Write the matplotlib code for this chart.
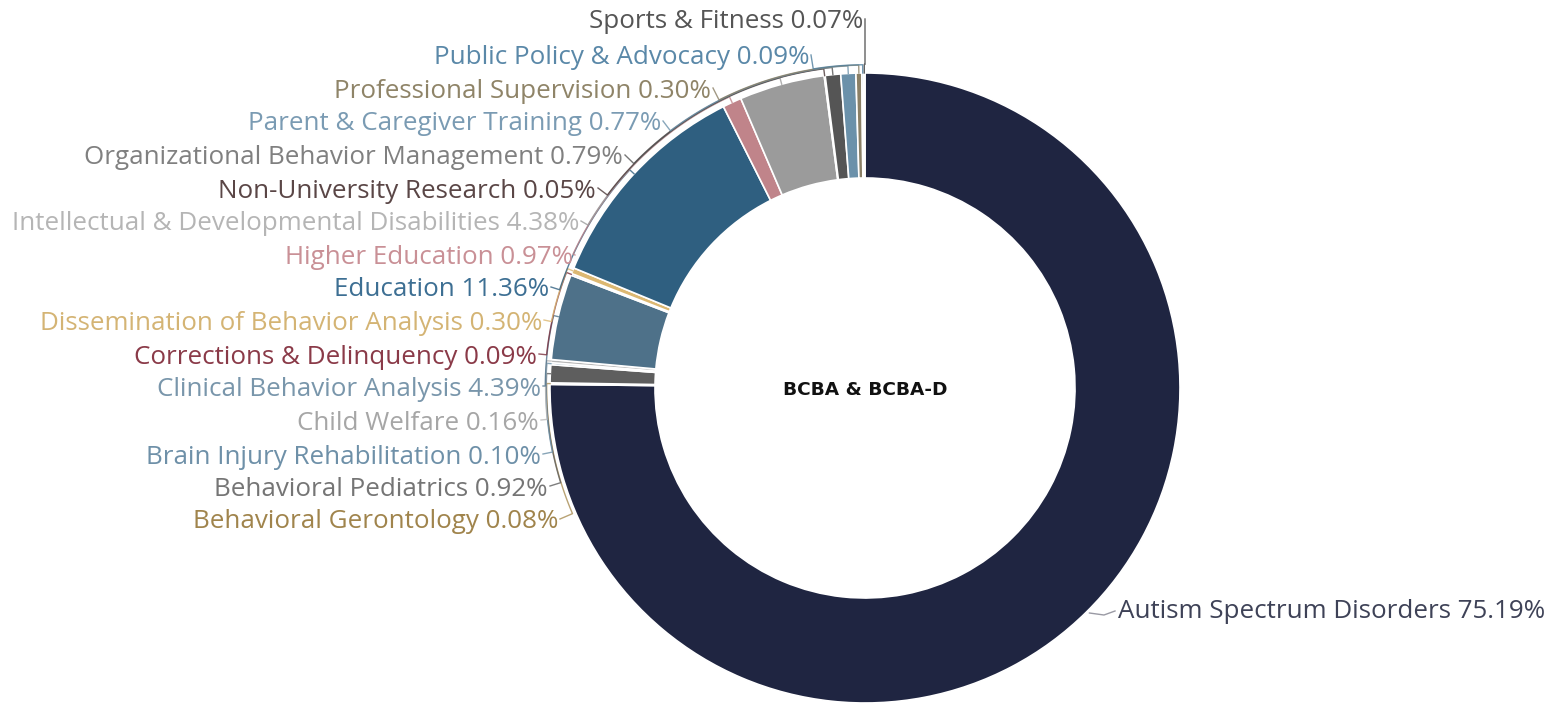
import numpy as np
import matplotlib.pyplot as plt

plt.rcParams['font.family'] = ['Open Sans', 'DejaVu Sans']

# data (clockwise from 12 o'clock)
categories = ["Autism Spectrum Disorders", "Behavioral Gerontology", "Behavioral Pediatrics",
              "Brain Injury Rehabilitation", "Child Welfare", "Clinical Behavior Analysis",
              "Corrections & Delinquency", "Dissemination of Behavior Analysis", "Education",
              "Higher Education", "Intellectual & Developmental Disabilities",
              "Non-University Research", "Organizational Behavior Management",
              "Parent & Caregiver Training", "Professional Supervision",
              "Public Policy & Advocacy", "Sports & Fitness"]
values = [75.19, 0.08, 0.92, 0.10, 0.16, 4.39, 0.09, 0.30, 11.36,
          0.97, 4.38, 0.05, 0.79, 0.77, 0.30, 0.09, 0.07]

slice_colors = ["#1f2541", "#a88c52", "#5e5e5e", "#6b8fa6", "#b8b8b8", "#4e7189",
                "#7b2f3d", "#dcb872", "#2f5f80", "#c0848a", "#9b9b9b", "#4b3838",
                "#555555", "#6b91aa", "#8b8066", "#4f7f9e", "#3a3a3a"]
text_colors = ["#3e4257", "#a0844c", "#757575", "#6e90a8", "#a6a6a6", "#7996ab",
               "#8a3a48", "#d4b474", "#3d6f93", "#c99096", "#b5b5b5", "#5a4646",
               "#808080", "#7a9bb3", "#8f8468", "#5a88a8", "#555555"]

# layout: label anchor (pixel coords, y from top); left labels are right-aligned
label_pos = [(1118, 612), (558, 522), (548, 489), (541, 457), (539, 423), (541, 389),
             (537, 357), (542, 323), (549, 290), (573, 258), (579, 224), (596, 191),
             (623, 158), (661, 124), (711, 91), (809, 58), (863, 22)]

W, H = 1555, 703
cx, cy, R, ring = 865, H - 388, 315, 105
fs = 18.7

fig = plt.figure(figsize=(W / 100, H / 100), dpi=100)
ax = fig.add_axes([0, 0, 1, 1])
ax.pie(values, colors=slice_colors, radius=R, center=(cx, cy), startangle=90,
       counterclock=False,
       wedgeprops=dict(width=ring, edgecolor="white", linewidth=1.2))
ax.set_xlim(0, W)
ax.set_ylim(0, H)
ax.set_aspect("equal")
ax.axis("off")

ax.text(cx, cy - 2, "BCBA & BCBA-D", ha="center", va="center", fontsize=13.3,
        fontweight="bold", color="#111111", family=["DejaVu Sans"])

cum = np.cumsum([0] + values[:-1])
total = sum(values)
for i, (name, v) in enumerate(zip(categories, values)):
    mid = np.deg2rad(90 - 360 * (cum[i] + v / 2) / total)
    lx, ly = label_pos[i]
    ly = H - ly
    txt = f"{name} {v:.2f}%"
    if i == 0:
        ax.text(lx, ly, txt, ha="left", va="center", fontsize=fs, color=text_colors[i])
        px, py = cx + R * np.cos(mid), cy + R * np.sin(mid)
        ax.plot([px + 3, lx - 14, lx - 3], [py - 1, ly - 3, ly + 1],
                color="#9a9aa4", lw=1)
        continue
    ax.text(lx, ly, txt, ha="right", va="center", fontsize=fs, color=text_colors[i])
    # leader: from label end onto a ring just outside the donut, along it, then in
    r_off = R + 3 + 0.35 * i
    sx, sy = lx + 2, ly + 3
    phi_l = np.arctan2(sy - cy, sx - cx)
    phi_l = phi_l if phi_l > -np.pi / 2 else phi_l + 2 * np.pi
    m = mid if mid > -np.pi / 2 else mid + 2 * np.pi
    arc = np.linspace(phi_l, m, 60)
    xs = [sx] + list(cx + r_off * np.cos(arc)) + [cx + R * np.cos(m)]
    ys = [sy] + list(cy + r_off * np.sin(arc)) + [cy + R * np.sin(m)]
    ax.plot(xs, ys, color=slice_colors[i], lw=1, alpha=0.8)

fig.savefig("out.png", dpi=100)
